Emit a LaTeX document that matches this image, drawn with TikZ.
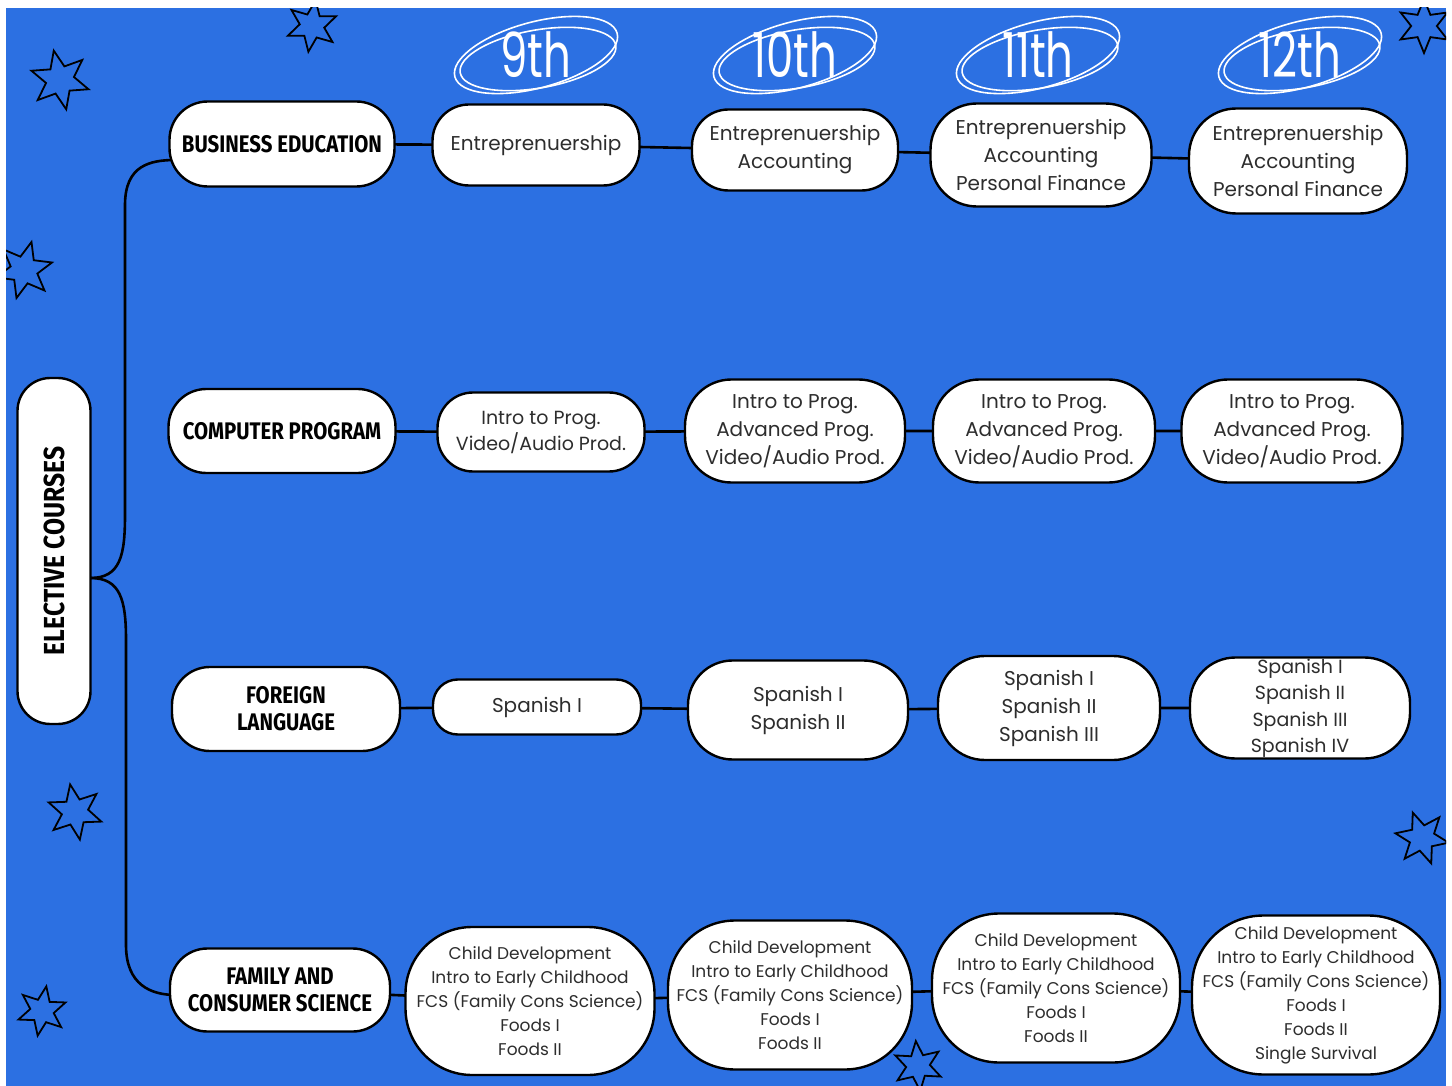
\documentclass[tikz,border=0pt]{standalone}
\usepackage{fontspec}
\setmainfont{Poppins}
\newfontfamily\coursefont{Poppins}
\newfontfamily\gradefont[FakeStretch=0.7]{Poppins}
\newfontfamily\handfont[FakeStretch=0.85]{Fira Sans}
\usetikzlibrary{positioning,shapes.geometric,backgrounds}
\definecolor{sky}{RGB}{44,112,226}
\definecolor{ink}{RGB}{45,45,45}

\begin{document}
\begin{tikzpicture}[
        x=1pt, y=-1pt,
        box/.style 2 args = {draw, line width=2.4pt, fill=white, align=center, inner sep=1pt, outer sep=0pt,
                             minimum width=#1pt, minimum height=#2pt, rounded corners={0.45*min(#1,#2)*1pt}},
        head/.style = {font=\handfont\bfseries\fontsize{24}{27}\selectfont},
        course/.style = {text=ink, font=\coursefont\fontsize{20}{28}\selectfont},
        small/.style = {text=ink, font=\coursefont\fontsize{17}{24}\selectfont},
        grade/.style = {text=white, font=\gradefont\fontsize{62}{62}\selectfont},
        scribble/.style = {draw=white, line width=1.6pt},
        link/.style = {draw, line width=2.6pt},
        twinkle/.style = {star, star points=6, star point ratio=2.1, draw, line width=1.8pt, fill=sky, inner sep=0pt}
    ]
    \useasboundingbox (0,0) rectangle (1452,1086);
%
    \node[box={73}{346}, head] (ec) at (54,551) {\rotatebox{90}{\fontsize{29}{29}\selectfont ELECTIVE COURSES}};
%
    \node[box={225}{85}, head] (bus)  at (282,144) {BUSINESS EDUCATION};
    \node[box={227}{84}, head] (cmp)  at (282,431) {COMPUTER PROGRAM};
    \node[box={228}{84}, head] (lang) at (286,709) {FOREIGN\\LANGUAGE};
    \node[box={220}{83}, head] (fam)  at (280,990) {FAMILY AND\\CONSUMER SCIENCE};
%
    \foreach \n/\x in {9/536, 10/795, 11/1038, 12/1300} {
        \node[grade] (g\n) at (\x,55) {\n th};
        \draw[scribble] (g\n.center) ellipse [x radius=84pt, y radius=33pt, rotate=15];
        \draw[scribble] ([shift={(2pt,-4pt)}]g\n.center) ellipse [x radius=79pt, y radius=29pt, rotate=10];
    }
%
    \node[box={207}{81}, course]  (b9)  at (536,145)  {Entreprenuership};
    \node[box={206}{81}, course]  (b10) at (795,150)  {Entreprenuership\\Accounting};
    \node[box={221}{103}, course] (b11) at (1041,155) {Entreprenuership\\Accounting\\Personal Finance};
    \node[box={218}{105}, course] (b12) at (1298,161) {Entreprenuership\\Accounting\\Personal Finance};
%
    \node[box={207}{79}, course, font=\coursefont\fontsize{19}{26}\selectfont] (c9) at (541,432) {Intro to Prog.\\Video/Audio Prod.};
    \node[box={220}{103}, course] (c10) at (795,431)  {Intro to Prog.\\Advanced Prog.\\Video/Audio Prod.};
    \node[box={222}{103}, course] (c11) at (1044,431) {Intro to Prog.\\Advanced Prog.\\Video/Audio Prod.};
    \node[box={221}{103}, course] (c12) at (1292,431) {Intro to Prog.\\Advanced Prog.\\Video/Audio Prod.};
%
    \node[box={208}{55}, course]  (l9)  at (537,707)  {Spanish I};
    \node[box={220}{99}, course]  (l10) at (798,710)  {Spanish I\\Spanish II};
    \node[box={222}{104}, course] (l11) at (1049,708) {Spanish I\\Spanish II\\Spanish III};
    \node[box={220}{101}, course, font=\coursefont\fontsize{19}{26.5}\selectfont] (l12) at (1300,708) {Spanish I\\Spanish II\\Spanish III\\Spanish IV};
%
    \node[box={249}{148}, small] (f9)  at (530,1001) {Child Development\\Intro to Early Childhood\\FCS (Family Cons Science)\\Foods I\\Foods II};
    \node[box={244}{149}, small] (f10) at (790,995)  {Child Development\\Intro to Early Childhood\\FCS (Family Cons Science)\\Foods I\\Foods II};
    \node[box={248}{149}, small] (f11) at (1056,988) {Child Development\\Intro to Early Childhood\\FCS (Family Cons Science)\\Foods I\\Foods II};
    \node[box={248}{159}, small] (f12) at (1316,995) {Child Development\\Intro to Early Childhood\\FCS (Family Cons Science)\\Foods I\\Foods II\\Single Survival};
%
    \begin{scope}
        \clip (6,8) rectangle (1446,1086);
        \foreach \x/\y/\s/\a [count=\i] in {60/80/60/12, 312/26/52/-8, 1424/26/54/0, 24/270/58/-15,
                                            75/812/56/10, 42/1011/50/-10, 1422/838/54/20, 918/1066/50/5}
            \node[twinkle, minimum size=\s pt, rotate=\a] (st\i) at (\x,\y) {};
    \end{scope}
%
    \begin{pgfonlayer}{background}
        \fill[white] (0,0) rectangle (1452,1086);
        \fill[sky] (6,8) rectangle (1446,1086);
        \draw[link] (bus) -- (b9) -- (b10) -- (b11) -- (b12);
        \draw[link] (cmp) -- (c9) -- (c10) -- (c11) -- (c12);
        \draw[link] (lang) -- (l9) -- (l10) -- (l11) -- (l12);
        \draw[link] (fam) -- (f9) -- (f10) -- (f11) -- (f12);
        \coordinate (fork) at ([yshift=-27pt]ec.east);
        \draw[link] (fork) .. controls +(30,0) and +(0,40) .. (125,515) -- (125,205)
            .. controls +(0,-40) and +(-25,0) .. ([yshift=-16pt, xshift=6pt]bus.west);
        \draw[link] (fork) .. controls +(30,0) and +(0,-40) .. (126,640) -- (126,945)
            .. controls +(0,40) and +(-25,0) .. ([yshift=-5pt, xshift=6pt]fam.west);
    \end{pgfonlayer}
\end{tikzpicture}
\end{document}
